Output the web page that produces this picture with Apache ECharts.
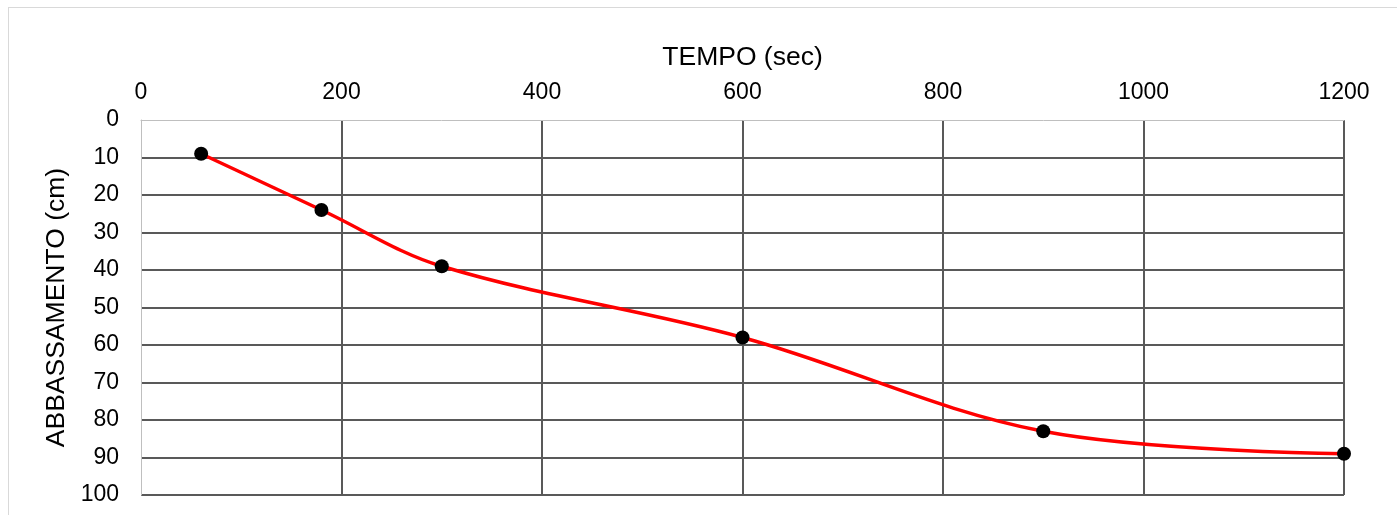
<!DOCTYPE html>
<html>
<head>
<meta charset="utf-8">
<script src="https://cdn.jsdelivr.net/npm/echarts@6/dist/echarts.min.js"></script>
<style>
  html, body { margin: 0; padding: 0; background: #fff; }
  #frame { position: absolute; left: 8px; top: 7px; width: 1400px; height: 520px;
           border-left: 1px solid #d9d9d9; border-top: 1px solid #d9d9d9; }
  #chart { position: absolute; left: 0; top: 0; width: 1397px; height: 515px; }
</style>
</head>
<body>
<div id="frame"></div>
<div id="chart"></div>
<script>
// tempo (sec) e abbassamento (cm)
var tempo = [60, 180, 300, 600, 900, 1200];
var abbassamento = [9, 24, 39, 58, 83, 89];

var chart = echarts.init(document.getElementById('chart'));

var points = tempo.map(function (t, i) { return [t, abbassamento[i]]; });

var option = {
  animation: false,
  textStyle: { fontFamily: 'Liberation Sans, Arial, sans-serif' },
  grid: { left: 141, top: 120, width: 1203, height: 375 },
  xAxis: {
    type: 'value',
    position: 'top',
    min: 0, max: 1200, interval: 200,
    name: 'TEMPO (sec)',
    nameLocation: 'middle',
    nameGap: 49,
    nameTextStyle: { fontSize: 26.5, color: '#000' },
    axisLine: { show: true, lineStyle: { color: '#bfbfbf', width: 1 } },
    axisTick: { show: false },
    axisLabel: { fontSize: 23, color: '#000', margin: 16, formatter: function (v) { return String(v); } },
    splitLine: { show: true, showMinLine: false, lineStyle: { color: '#595959', width: 2 } }
  },
  yAxis: {
    type: 'value',
    inverse: true,
    min: 0, max: 100, interval: 10,
    name: 'ABBASSAMENTO (cm)',
    nameLocation: 'middle',
    nameGap: 70,
    nameRotate: 90,
    nameTextStyle: { fontSize: 26.5, color: '#000' },
    axisLine: { show: true, lineStyle: { color: '#bfbfbf', width: 1 } },
    axisTick: { show: false },
    axisLabel: { fontSize: 23, color: '#000', margin: 22 },
    splitLine: { show: true, showMinLine: false, lineStyle: { color: '#595959', width: 2 } }
  },
  series: [
    {
      type: 'line',
      data: points,
      smooth: 0.35,
      symbol: 'circle',
      symbolSize: 14,
      itemStyle: { color: '#000' },
      lineStyle: { color: '#ff0000', width: 3.5 }
    }
  ]
};

chart.setOption(option);
</script>
</body>
</html>
